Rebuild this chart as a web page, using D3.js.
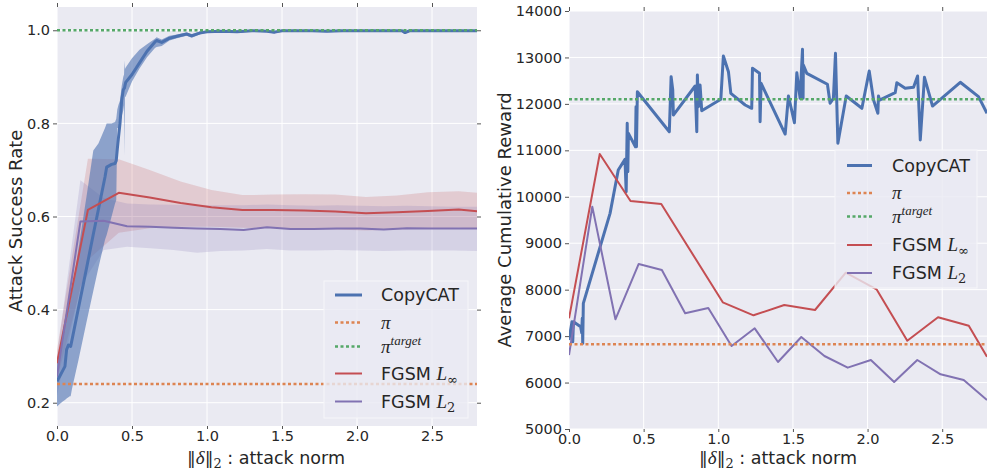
<!DOCTYPE html>
<html>
<head>
<meta charset="utf-8">
<script src="https://cdn.jsdelivr.net/npm/d3@7/dist/d3.min.js"></script>
<style>
  body { margin: 0; background: #ffffff; }
  svg { display: block; }
  text { font-family: "DejaVu Sans", sans-serif; fill: #262626; }
</style>
</head>
<body>
<svg id="fig" width="987" height="470"></svg>
<script>
// ---------- shared axis ticks ----------
const normTicks = [0, 0.5, 1.0, 1.5, 2.0, 2.5];
const successTicks = [0.2, 0.4, 0.6, 0.8, 1.0];
const rewardTicks = [5000, 6000, 7000, 8000, 9000, 10000, 11000, 12000, 13000, 14000];

// ---------- attack success rate (left) ----------
const copycatRateX = [0, 0.02, 0.04, 0.053, 0.064, 0.076, 0.085, 0.091, 0.1, 0.142, 0.2, 0.242, 0.276, 0.32, 0.331, 0.364, 0.387, 0.395, 0.402, 0.41, 0.42, 0.431, 0.442, 0.447, 0.45, 0.453, 0.458, 0.5, 0.55, 0.6, 0.653, 0.664, 0.698, 0.75, 0.8, 0.864, 0.898, 0.95, 1.0, 1.1, 1.2, 1.25, 1.3, 1.4, 1.45, 1.5, 1.6, 1.7, 1.8, 1.9, 2.0, 2.1, 2.2, 2.3, 2.32, 2.35, 2.4, 2.5, 2.6, 2.7, 2.8];
const copycatRate = [0.246, 0.258, 0.27, 0.278, 0.314, 0.324, 0.322, 0.321, 0.335, 0.402, 0.494, 0.562, 0.615, 0.685, 0.706, 0.712, 0.714, 0.72, 0.745, 0.77, 0.80, 0.849, 0.872, 0.875, 0.876, 0.881, 0.888, 0.905, 0.93, 0.955, 0.975, 0.978, 0.974, 0.983, 0.987, 0.992, 0.988, 0.994, 0.997, 0.998, 0.997, 0.998, 0.999, 0.998, 0.996, 0.999, 0.999, 0.999, 0.998, 0.999, 0.999, 0.999, 0.999, 0.999, 0.995, 0.999, 0.999, 0.999, 0.999, 0.999, 0.999];
const copycatRateHi = [0.292, 0.32, 0.345, 0.36, 0.38, 0.40, 0.415, 0.425, 0.44, 0.528, 0.65, 0.742, 0.757, 0.79, 0.80, 0.80, 0.803, 0.81, 0.83, 0.84, 0.849, 0.88, 0.9, 0.905, 0.935, 0.917, 0.92, 0.94, 0.958, 0.97, 0.982, 0.985, 0.98, 0.988, 0.991, 0.995, 0.992, 0.997, 0.999, 1.0, 1.0, 1.0, 1.0, 1.0, 0.999, 1.0, 1.0, 1.0, 1.0, 1.0, 1.0, 1.0, 1.0, 1.0, 0.998, 1.0, 1.0, 1.0, 1.0, 1.0, 1.0];
const copycatRateLo = [0.192, 0.198, 0.203, 0.206, 0.209, 0.212, 0.214, 0.214, 0.23, 0.29, 0.378, 0.44, 0.49, 0.55, 0.56, 0.60, 0.628, 0.635, 0.79, 0.79, 0.80, 0.815, 0.828, 0.84, 0.73, 0.856, 0.858, 0.89, 0.918, 0.942, 0.962, 0.964, 0.966, 0.978, 0.983, 0.988, 0.984, 0.991, 0.995, 0.996, 0.994, 0.996, 0.997, 0.996, 0.993, 0.997, 0.997, 0.997, 0.996, 0.997, 0.997, 0.997, 0.997, 0.997, 0.992, 0.997, 0.997, 0.997, 0.997, 0.997, 0.997];

const fgsmInfRateX = [0, 0.206, 0.412, 0.618, 0.824, 1.03, 1.236, 1.442, 1.648, 1.854, 2.06, 2.266, 2.472, 2.678, 2.8];
const fgsmInfRate = [0.285, 0.614, 0.651, 0.641, 0.629, 0.62, 0.614, 0.614, 0.613, 0.611, 0.607, 0.609, 0.612, 0.615, 0.611];
const fgsmInfRateHi = [0.314, 0.724, 0.723, 0.70, 0.675, 0.657, 0.646, 0.647, 0.648, 0.647, 0.642, 0.645, 0.652, 0.654, 0.651];
const fgsmInfRateLo = [0.25, 0.507, 0.565, 0.575, 0.578, 0.578, 0.576, 0.575, 0.573, 0.572, 0.57, 0.572, 0.574, 0.576, 0.573];

const fgsmL2RateX = [0, 0.156, 0.311, 0.467, 0.622, 0.778, 0.933, 1.089, 1.244, 1.4, 1.556, 1.711, 1.867, 2.022, 2.178, 2.333, 2.489, 2.644, 2.8];
const fgsmL2Rate = [0.256, 0.589, 0.591, 0.579, 0.578, 0.576, 0.574, 0.573, 0.571, 0.577, 0.573, 0.573, 0.574, 0.574, 0.572, 0.575, 0.574, 0.574, 0.574];
const fgsmL2RateHi = [0.30, 0.678, 0.64, 0.628, 0.626, 0.625, 0.624, 0.624, 0.624, 0.626, 0.624, 0.623, 0.624, 0.623, 0.622, 0.623, 0.622, 0.621, 0.621];
const fgsmL2RateLo = [0.215, 0.45, 0.528, 0.535, 0.532, 0.528, 0.522, 0.526, 0.527, 0.53, 0.527, 0.527, 0.528, 0.527, 0.526, 0.527, 0.527, 0.527, 0.526];

const originalRate = 0.24;   // unattacked policy
const targetRate = 1.0;      // target policy

// ---------- average cumulative reward (right) ----------
const copycatRewardX = [0, 0.02, 0.025, 0.03, 0.078, 0.085, 0.089, 0.092, 0.096, 0.275, 0.33, 0.375, 0.383, 0.39, 0.394, 0.398, 0.445, 0.449, 0.452, 0.458, 0.672, 0.684, 0.695, 0.699, 0.845, 0.856, 0.86, 0.867, 0.878, 0.889, 1.017, 1.034, 1.068, 1.084, 1.18, 1.224, 1.229, 1.276, 1.28, 1.287, 1.448, 1.47, 1.51, 1.526, 1.548, 1.564, 1.568, 1.57, 1.593, 1.731, 1.749, 1.771, 1.785, 1.801, 1.857, 1.962, 2.011, 2.04, 2.069, 2.073, 2.08, 2.185, 2.196, 2.252, 2.308, 2.335, 2.353, 2.381, 2.435, 2.621, 2.743, 2.8];
const copycatReward = [6916, 7309, 6877, 7309, 7203, 7073, 7383, 6844, 7706, 9643, 10576, 10806, 10109, 11581, 10540, 11366, 11078, 11939, 11078, 12262, 11401, 12585, 12299, 11760, 12385, 11401, 12622, 11939, 12407, 11853, 12099, 13031, 12693, 12228, 11976, 11905, 12766, 12658, 11616, 12443, 11351, 12170, 11595, 12671, 12120, 13175, 12120, 12837, 12658, 12422, 12013, 12120, 13089, 11151, 12170, 11905, 12708, 12083, 11797, 12170, 12083, 12241, 12456, 12335, 12357, 12600, 11222, 12572, 11954, 12465, 12155, 11797];

const fgsmInfRewardX = [0, 0.206, 0.412, 0.618, 1.03, 1.236, 1.442, 1.648, 1.854, 2.06, 2.266, 2.472, 2.678, 2.8];
const fgsmInfReward = [7383, 10922, 9910, 9845, 7728, 7448, 7670, 7562, 8366, 8008, 6901, 7405, 7225, 6557];

const fgsmL2RewardX = [0, 0.156, 0.311, 0.467, 0.622, 0.778, 0.933, 1.089, 1.244, 1.4, 1.556, 1.711, 1.867, 2.022, 2.178, 2.333, 2.489, 2.644, 2.8];
const fgsmL2Reward = [6593, 9787, 7362, 8553, 8424, 7491, 7606, 6787, 7168, 6443, 6981, 6572, 6321, 6486, 6012, 6486, 6178, 6055, 5624];

const originalReward = 6824;
const targetReward = 12099;

// ---------- palette ----------
const C = {
  copycat: "#4C72B0",
  orig: "#DD8452",
  target: "#55A868",
  inf: "#C44E52",
  l2: "#8172B2",
  bg: "#EAEAF2",
  text: "#262626"
};

const svg = d3.select("#fig");
const zip = (xs, ys) => xs.map((x, i) => [x, ys[i]]);
const zip3 = (xs, lo, hi) => xs.map((x, i) => [x, lo[i], hi[i]]);

function drawPanel(o) {
  const g = svg.append("g");
  const x = d3.scaleLinear().domain([0, 2.8]).range([o.left, o.right]);
  const y = d3.scaleLinear().domain(o.yDomain).range([o.bottom, o.top]);

  g.append("rect")
    .attr("x", o.left).attr("y", o.top)
    .attr("width", o.right - o.left).attr("height", o.bottom - o.top)
    .attr("fill", C.bg);

  // grid
  g.append("g").selectAll("line").data(o.xTicks).join("line")
    .attr("x1", d => x(d)).attr("x2", d => x(d))
    .attr("y1", o.top).attr("y2", o.bottom)
    .attr("stroke", "#ffffff").attr("stroke-width", 1);
  g.append("g").selectAll("line").data(o.yTicks).join("line")
    .attr("x1", o.left).attr("x2", o.right)
    .attr("y1", d => y(d)).attr("y2", d => y(d))
    .attr("stroke", "#ffffff").attr("stroke-width", 1);

  const clipId = "clip-" + o.id;
  svg.append("clipPath").attr("id", clipId).append("rect")
    .attr("x", o.left).attr("y", o.top)
    .attr("width", o.right - o.left).attr("height", o.bottom - o.top);
  const plot = g.append("g").attr("clip-path", `url(#${clipId})`);

  const area = d3.area().x(d => x(d[0])).y0(d => y(d[1])).y1(d => y(d[2]));
  const line = d3.line().x(d => x(d[0])).y(d => y(d[1]));

  (o.bands || []).forEach(b => {
    plot.append("path").datum(zip3(b.x, b.lo, b.hi))
      .attr("d", area).attr("fill", b.color).attr("fill-opacity", b.alpha);
  });
  o.series.forEach(s => {
    plot.append("path").datum(zip(s.x, s.y))
      .attr("d", line).attr("fill", "none")
      .attr("stroke", s.color).attr("stroke-width", s.width)
      .attr("stroke-linejoin", "round");
  });
  o.hlines.forEach(h => {
    plot.append("line")
      .attr("x1", o.left).attr("x2", o.right)
      .attr("y1", y(h.v)).attr("y2", y(h.v))
      .attr("stroke", h.color).attr("stroke-width", 2.5)
      .attr("stroke-dasharray", "3,2.5");
  });

  // axes
  const styleAxis = sel => {
    sel.select(".domain").remove();
    sel.selectAll(".tick line").attr("stroke", "#555555");
    sel.selectAll(".tick text").attr("fill", C.text)
      .style("font-family", '"DejaVu Sans", sans-serif').style("font-size", "14.5px");
  };
  g.append("g").attr("transform", `translate(0,${o.bottom})`)
    .call(d3.axisBottom(x).tickValues(o.xTicks).tickFormat(d3.format(".1f")).tickSize(3).tickPadding(2))
    .call(styleAxis);
  g.append("g").attr("transform", `translate(0,${o.top})`)
    .call(d3.axisTop(x).tickValues(o.xTicks).tickFormat("").tickSize(4))
    .call(styleAxis);
  g.append("g").attr("transform", `translate(${o.left},0)`)
    .call(d3.axisLeft(y).tickValues(o.yTicks).tickFormat(o.yFormat).tickSize(4).tickPadding(3))
    .call(styleAxis);
  if (o.rightTicks) {
    g.append("g").attr("transform", `translate(${o.right},0)`)
      .call(d3.axisRight(y).tickValues(o.yTicks).tickFormat("").tickSize(4))
      .call(styleAxis);
  }

  // axis titles
  const xl = g.append("text")
    .attr("x", o.xLabelX).attr("y", 464)
    .attr("text-anchor", "middle").style("font-size", "17.5px");
  xl.append("tspan").text("\u2016").style("font-family", '"DejaVu Serif", serif');
  xl.append("tspan").text("\u03b4").style("font-family", '"Liberation Serif", serif').style("font-style", "italic").style("font-size", "19px");
  xl.append("tspan").text("\u2016").style("font-family", '"DejaVu Serif", serif');
  xl.append("tspan").text("2").attr("dy", 4).style("font-family", '"DejaVu Serif", serif').style("font-size", "13px");
  xl.append("tspan").text(" : attack norm").attr("dy", -4);

  g.append("text")
    .attr("transform", `translate(${o.yLabelX},${o.yLabelY}) rotate(-90)`)
    .attr("text-anchor", "middle").style("font-size", "18px")
    .text(o.yLabel);

  // legend
  const L = o.legend;
  const lg = g.append("g");
  lg.append("rect")
    .attr("x", L.x).attr("y", L.y).attr("width", L.w).attr("height", L.h)
    .attr("fill", C.bg).attr("fill-opacity", 0.8)
    .attr("stroke", "#f6f6f9").attr("stroke-width", 1);
  const items = [
    { kind: "copycat", color: C.copycat, width: 3, dash: null },
    { kind: "orig", color: C.orig, width: 2.5, dash: "3,2.5" },
    { kind: "target", color: C.target, width: 2.5, dash: "3,2.5" },
    { kind: "inf", color: C.inf, width: 2, dash: null },
    { kind: "l2", color: C.l2, width: 2, dash: null }
  ];
  items.forEach((it, i) => {
    const ry = L.rows[i];
    lg.append("line")
      .attr("x1", L.hx0).attr("x2", L.hx1).attr("y1", ry).attr("y2", ry)
      .attr("stroke", it.color).attr("stroke-width", it.width)
      .attr("stroke-dasharray", it.dash);
    const t = lg.append("text").attr("x", L.tx).attr("y", ry + 6).style("font-size", "17.5px");
    const mathIt = s => s.style("font-family", '"Liberation Serif", serif').style("font-style", "italic");
    if (it.kind === "copycat") {
      t.text("CopyCAT");
    } else if (it.kind === "orig") {
      t.append("tspan").text("\u03c0").call(mathIt).style("font-size", "19px");
    } else if (it.kind === "target") {
      t.append("tspan").text("\u03c0").call(mathIt).style("font-size", "19px");
      t.append("tspan").text("target").attr("dy", -8).call(mathIt).style("font-size", "13px");
    } else if (it.kind === "inf") {
      t.append("tspan").text("FGSM ");
      t.append("tspan").text("L").call(mathIt).style("font-size", "19px");
      t.append("tspan").text("\u221e").attr("dy", 4).style("font-family", '"DejaVu Serif", serif').style("font-size", "13px");
    } else {
      t.append("tspan").text("FGSM ");
      t.append("tspan").text("L").call(mathIt).style("font-size", "19px");
      t.append("tspan").text("2").attr("dy", 4).style("font-family", '"DejaVu Serif", serif').style("font-size", "13px");
    }
  });
}

drawPanel({
  id: "rate",
  left: 57, right: 477, top: 7, bottom: 426,
  yDomain: [0.15, 1.05],
  xTicks: normTicks, yTicks: successTicks, yFormat: d3.format(".1f"),
  rightTicks: true,
  bands: [
    { x: fgsmInfRateX, lo: fgsmInfRateLo, hi: fgsmInfRateHi, color: C.inf, alpha: 0.2 },
    { x: fgsmL2RateX, lo: fgsmL2RateLo, hi: fgsmL2RateHi, color: C.l2, alpha: 0.2 },
    { x: copycatRateX, lo: copycatRateLo, hi: copycatRateHi, color: C.copycat, alpha: 0.6 }
  ],
  series: [
    { x: copycatRateX, y: copycatRate, color: C.copycat, width: 3 },
    { x: fgsmInfRateX, y: fgsmInfRate, color: C.inf, width: 2 },
    { x: fgsmL2RateX, y: fgsmL2Rate, color: C.l2, width: 2 }
  ],
  hlines: [
    { v: originalRate, color: C.orig },
    { v: targetRate, color: C.target }
  ],
  xLabelX: 266,
  yLabel: "Attack Success Rate", yLabelX: 22, yLabelY: 221,
  legend: { x: 324, y: 281, w: 144, h: 137, hx0: 335, hx1: 362, tx: 381,
            rows: [295, 322.5, 346.5, 373.5, 401.5] }
});

drawPanel({
  id: "reward",
  left: 569, right: 987, top: 11, bottom: 429,
  yDomain: [5000, 14000],
  xTicks: normTicks, yTicks: rewardTicks, yFormat: d3.format("d"),
  rightTicks: false,
  bands: [],
  series: [
    { x: copycatRewardX, y: copycatReward, color: C.copycat, width: 3 },
    { x: fgsmInfRewardX, y: fgsmInfReward, color: C.inf, width: 2 },
    { x: fgsmL2RewardX, y: fgsmL2Reward, color: C.l2, width: 2 }
  ],
  hlines: [
    { v: originalReward, color: C.orig },
    { v: targetReward, color: C.target }
  ],
  xLabelX: 778,
  yLabel: "Average Cumulative Reward", yLabelX: 511, yLabelY: 220,
  legend: { x: 835, y: 150, w: 142, h: 138, hx0: 847, hx1: 872, tx: 892,
            rows: [165.5, 193, 216.5, 245, 273] }
});
</script>
</body>
</html>
